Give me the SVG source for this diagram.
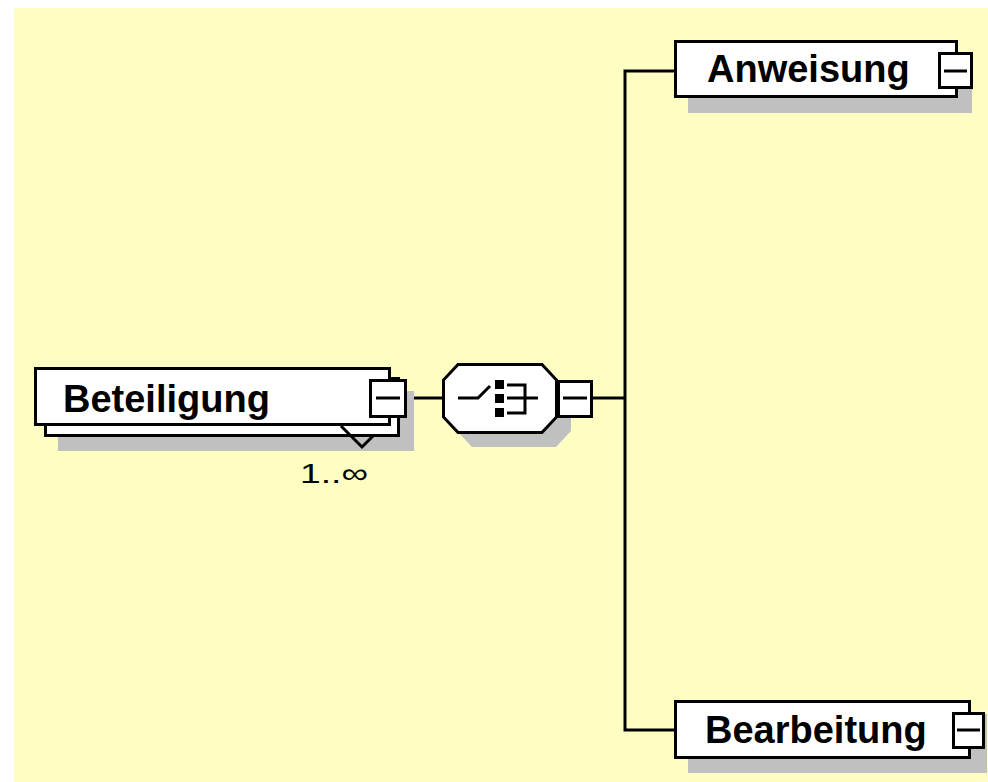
<svg xmlns="http://www.w3.org/2000/svg" width="988" height="782" viewBox="0 0 988 782">
<style>
.bx{fill:#fff;stroke:#000;stroke-width:3}
.sh{fill:#c0c0c0}
.ln{fill:none;stroke:#000;stroke-width:3}
.lbl{font-family:"Liberation Sans",Arial,sans-serif;font-weight:bold;font-size:38px;fill:#000}
.occ{font-family:"Liberation Sans",Arial,sans-serif;font-size:28px;fill:#000}
</style>
<rect x="0" y="0" width="988" height="782" fill="#fff"/>
<rect x="14" y="8" width="974" height="774" fill="#fffec2"/>
<g id="connectors">
<line class="ln" x1="407" y1="398" x2="443" y2="398"/>
<line class="ln" x1="593" y1="398" x2="625" y2="398"/>
<polyline class="ln" points="674,71 625,71 625,730 674,730"/>
</g>
<g id="Beteiligung">
<rect class="sh" x="58" y="391" width="356" height="60"/>
<rect class="bx" x="45.5" y="378.5" width="353" height="57"/>
<polyline class="ln" points="341,426 362,447 373,436" stroke-width="2.5"/>
<rect class="bx" x="35.5" y="368.5" width="354" height="56"/>
<text class="lbl" x="63" y="412">Beteiligung</text>
<rect class="bx" x="370.5" y="380.5" width="35" height="36"/>
<line class="ln" x1="376" y1="398" x2="400" y2="398"/>
<text class="occ" x="300" y="483" textLength="68" lengthAdjust="spacingAndGlyphs">1..∞</text>
</g>
<g id="choice">
<polygon class="sh" points="472,378 556,378 571,394 571,431 556,447 472,447 457,431 457,394"/>
<polygon class="bx" points="458,364.5 542,364.5 556.5,380 556.5,417 542,432.5 458,432.5 443.5,417 443.5,380"/>
<polyline class="ln" points="458,398 478,398 490,386"/>
<rect x="495" y="380" width="9" height="9" fill="#000"/>
<rect x="495" y="394" width="9" height="9" fill="#000"/>
<rect x="495" y="408" width="9" height="9" fill="#000"/>
<polyline class="ln" points="507,385 525,385 525,413 507,413"/>
<line class="ln" x1="507" y1="398" x2="538" y2="398"/>
<rect class="bx" x="558.5" y="381.5" width="33" height="35"/>
<line class="ln" x1="563" y1="398" x2="587" y2="398"/>
</g>
<g id="Anweisung">
<rect class="sh" x="688" y="54" width="284" height="59"/>
<rect class="bx" x="675.5" y="41.5" width="281" height="55"/>
<text class="lbl" x="707" y="82">Anweisung</text>
<rect class="bx" x="939.5" y="53.5" width="32" height="34"/>
<line class="ln" x1="944" y1="71" x2="967" y2="71"/>
</g>
<g id="Bearbeitung">
<rect class="sh" x="688" y="714" width="299" height="59"/>
<rect class="bx" x="675.5" y="701.5" width="294" height="56"/>
<text class="lbl" x="705" y="743">Bearbeitung</text>
<rect class="bx" x="953.5" y="713.5" width="30" height="34"/>
<line class="ln" x1="957" y1="730" x2="980" y2="730"/>
</g>
</svg>
